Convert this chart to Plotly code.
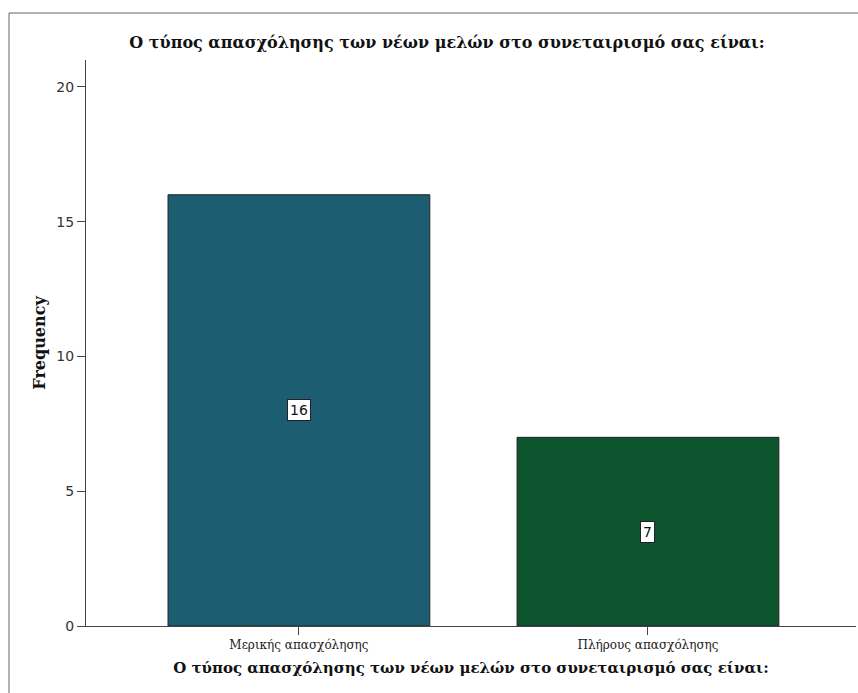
import plotly.graph_objects as go

categories = ["Μερικής απασχόλησης", "Πλήρους απασχόλησης"]
frequency = [16, 7]
bar_colors = ["#1d5d72", "#0c552f"]
title_text = "Ο τύπος απασχόλησης των νέων μελών στο συνεταιρισμό σας είναι:"
y_ticks = [0, 5, 10, 15, 20]

SERIF = "DejaVu Serif, Liberation Serif, Times New Roman"

fig = go.Figure()
fig.add_trace(go.Bar(
    x=categories, y=frequency, width=0.75,
    marker=dict(color=bar_colors, line=dict(color="#222222", width=1)),
    hoverinfo="skip",
))

for c, v in zip(categories, frequency):
    fig.add_annotation(
        x=c, y=v / 2, xref="x", yref="y", text=str(v), showarrow=False,
        font=dict(family="DejaVu Sans, Arial", size=14, color="#111111"),
        bgcolor="white", bordercolor="#222222", borderwidth=1, borderpad=2,
    )

# outer frame
fig.add_shape(type="rect", xref="paper", yref="paper",
              x0=-0.1, x1=1.3, y0=-0.4, y1=1.083,
              line=dict(color="#666666", width=1), layer="below")

fig.update_layout(
    width=858, height=693,
    margin=dict(l=86, r=2, t=60, b=67),
    paper_bgcolor="white", plot_bgcolor="white",
    showlegend=False,
    title=dict(text="<b>" + title_text + "</b>", x=447 / 858, xanchor="center",
               y=1 - 42 / 693, yanchor="middle",
               font=dict(family=SERIF, size=16, color="#111111")),
    xaxis=dict(
        range=[-0.61, 1.596], showline=True, linecolor="#444444", linewidth=1,
        ticks="outside", ticklen=8, tickcolor="#444444", showgrid=False,
        tickfont=dict(family=SERIF, size=12, color="#222222"),
        title=dict(text="<b>" + title_text + "</b>", standoff=11,
                   font=dict(family=SERIF, size=15, color="#111111")),
    ),
    yaxis=dict(
        range=[0, 21.0], tickvals=y_ticks, showline=True, linecolor="#444444", linewidth=1,
        ticks="outside", ticklen=8, tickcolor="#444444", showgrid=False, zeroline=False,
        tickfont=dict(family="DejaVu Sans, Arial", size=14, color="#333333"),
        title=dict(text="<b>Frequency</b>", standoff=6,
                   font=dict(family=SERIF, size=16, color="#111111")),
    ),
)

fig.write_html("out.html", config={"displayModeBar": False},
               post_script="document.body.style.margin='0';document.body.style.overflow='hidden';")
